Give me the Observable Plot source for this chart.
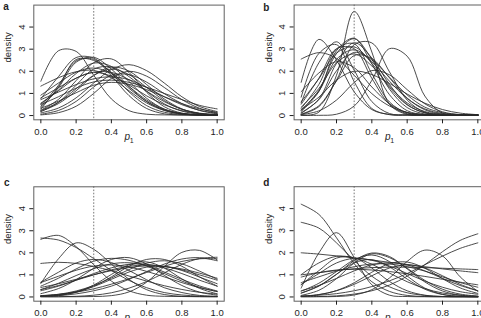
<!DOCTYPE html>
<html>
<head>
<meta charset="utf-8">
<script src="https://cdn.jsdelivr.net/npm/d3@7"></script>
<script src="https://cdn.jsdelivr.net/npm/@observablehq/plot@0.6"></script>
<style>
  html, body { margin: 0; padding: 0; background: #fff; overflow: hidden; }
  #fig { position: relative; width: 500px; height: 318px; overflow: hidden; }
  #fig svg { position: absolute; left: 0; top: 0; max-width: none; }
</style>
</head>
<body>
<div id="fig"></div>
<script>
// Values of p1 at which every posterior density is tabulated
const p1Grid = [0, 0.1, 0.2, 0.3, 0.4, 0.5, 0.6, 0.7, 0.8, 0.9, 1.0];

// Panel a: one row of densities per replicate
const panelA = [
  [1.55, 2.93, 2.90, 1.82, 0.75, 0.22, 0.06, 0.03, 0.02, 0.02, 0.02],
  [0.76, 1.76, 2.62, 2.59, 1.91, 1.07, 0.45, 0.15, 0.05, 0.03, 0.02],
  [0.36, 1.26, 2.41, 2.63, 2.10, 1.31, 0.63, 0.24, 0.07, 0.03, 0.02],
  [0.29, 1.30, 2.53, 2.49, 1.95, 1.23, 0.64, 0.26, 0.09, 0.03, 0.02],
  [0.24, 0.73, 1.58, 2.39, 2.56, 1.95, 1.05, 0.40, 0.11, 0.03, 0.02],
  [0.12, 0.34, 0.80, 1.47, 2.08, 2.30, 2.03, 1.47, 0.85, 0.41, 0.18],
  [0.19, 0.54, 1.12, 1.81, 2.19, 2.01, 1.40, 0.75, 0.30, 0.09, 0.03],
  [1.33, 1.71, 1.98, 2.04, 1.71, 1.12, 0.57, 0.23, 0.07, 0.03, 0.02],
  [0.92, 1.47, 1.96, 2.15, 1.90, 1.31, 0.70, 0.29, 0.10, 0.04, 0.02],
  [0.80, 1.26, 1.69, 1.96, 1.95, 1.62, 1.10, 0.63, 0.29, 0.11, 0.04],
  [0.53, 1.15, 1.90, 2.37, 2.22, 1.54, 0.78, 0.29, 0.08, 0.03, 0.02],
  [0.72, 1.06, 1.40, 1.66, 1.75, 1.62, 1.27, 0.85, 0.49, 0.24, 0.10],
  [0.50, 0.85, 1.24, 1.52, 1.60, 1.50, 1.28, 1.00, 0.72, 0.46, 0.30],
  [0.33, 0.65, 1.03, 1.37, 1.50, 1.41, 1.17, 0.85, 0.54, 0.30, 0.15],
  [0.18, 0.60, 1.37, 2.10, 2.20, 1.76, 1.10, 0.53, 0.20, 0.06, 0.02],
  [0.06, 0.23, 0.64, 1.29, 1.82, 1.85, 1.51, 0.99, 0.54, 0.23, 0.08],
  [0.23, 0.60, 1.21, 1.82, 2.10, 1.85, 1.27, 0.68, 0.28, 0.09, 0.03],
  [0.42, 1.37, 2.47, 2.54, 1.80, 0.90, 0.32, 0.08, 0.03, 0.02, 0.02],
  [0.56, 1.12, 1.69, 1.95, 1.78, 1.38, 0.89, 0.49, 0.22, 0.09, 0.05],
  [0.03, 0.13, 0.42, 1.00, 1.68, 2.00, 1.78, 1.27, 0.72, 0.33, 0.12]
];

// Panel b
const panelB = [
  [0.01, 0.15, 1.82, 4.70, 2.87, 0.51, 0.05, 0.02, 0.02, 0.02, 0.02],
  [1.50, 3.44, 2.50, 1.07, 0.27, 0.05, 0.02, 0.02, 0.02, 0.02, 0.02],
  [2.55, 2.84, 2.58, 1.82, 0.99, 0.43, 0.14, 0.04, 0.02, 0.02, 0.02],
  [0.83, 2.80, 3.20, 1.53, 0.32, 0.04, 0.02, 0.02, 0.02, 0.02, 0.02],
  [0.57, 2.38, 3.33, 2.05, 0.63, 0.09, 0.03, 0.02, 0.02, 0.02, 0.02],
  [1.07, 1.92, 2.43, 2.16, 1.29, 0.53, 0.14, 0.04, 0.02, 0.02, 0.02],
  [0.18, 1.08, 2.93, 3.49, 2.33, 0.94, 0.22, 0.04, 0.02, 0.02, 0.02],
  [0.23, 1.14, 2.80, 3.47, 2.54, 1.19, 0.36, 0.07, 0.03, 0.02, 0.02],
  [0.32, 1.40, 3.00, 3.24, 1.89, 0.61, 0.12, 0.03, 0.02, 0.02, 0.02],
  [0.10, 0.74, 2.36, 3.29, 2.60, 1.40, 0.50, 0.12, 0.03, 0.02, 0.02],
  [0.62, 1.66, 2.82, 3.10, 2.36, 1.27, 0.48, 0.13, 0.04, 0.02, 0.02],
  [0.24, 1.10, 2.54, 2.97, 2.43, 1.55, 0.77, 0.30, 0.09, 0.03, 0.02],
  [0.13, 0.71, 2.02, 2.85, 2.51, 1.73, 0.93, 0.38, 0.13, 0.04, 0.02],
  [0.05, 0.40, 1.60, 3.20, 3.28, 1.97, 0.70, 0.15, 0.04, 0.02, 0.02],
  [0.06, 0.44, 1.56, 2.71, 2.57, 1.70, 0.79, 0.26, 0.06, 0.02, 0.02],
  [0.01, 0.01, 0.06, 0.43, 1.59, 3.02, 2.68, 0.88, 0.11, 0.02, 0.01],
  [0.04, 0.21, 0.70, 1.49, 2.03, 1.84, 1.17, 0.53, 0.17, 0.04, 0.02],
  [0.27, 0.83, 1.60, 2.00, 1.85, 1.45, 0.97, 0.56, 0.27, 0.11, 0.04],
  [0.51, 1.68, 3.02, 3.02, 1.68, 0.51, 0.08, 0.03, 0.02, 0.02, 0.02],
  [0.38, 1.22, 2.38, 2.78, 2.24, 1.33, 0.57, 0.18, 0.05, 0.02, 0.02]
];

// Panel c
const panelC = [
  [2.67, 2.58, 2.24, 1.74, 1.20, 0.75, 0.42, 0.20, 0.09, 0.04, 0.02],
  [2.61, 2.79, 2.28, 1.46, 0.72, 0.28, 0.08, 0.03, 0.02, 0.01, 0.01],
  [0.61, 1.73, 2.45, 2.16, 1.49, 0.80, 0.33, 0.11, 0.03, 0.02, 0.01],
  [1.52, 1.57, 1.52, 1.38, 1.19, 0.95, 0.72, 0.51, 0.34, 0.21, 0.13],
  [0.01, 0.01, 0.01, 0.02, 0.06, 0.23, 0.67, 1.38, 2.02, 2.11, 1.68],
  [0.01, 0.01, 0.03, 0.08, 0.19, 0.40, 0.70, 1.09, 1.48, 1.74, 1.80],
  [0.03, 0.06, 0.14, 0.28, 0.49, 0.80, 1.15, 1.49, 1.72, 1.78, 1.64],
  [0.06, 0.12, 0.22, 0.37, 0.58, 0.83, 1.11, 1.39, 1.61, 1.73, 1.73],
  [0.15, 0.38, 0.78, 1.30, 1.70, 1.78, 1.49, 0.98, 0.52, 0.22, 0.08],
  [0.49, 0.85, 1.27, 1.62, 1.75, 1.66, 1.40, 1.06, 0.72, 0.44, 0.24],
  [0.34, 0.52, 0.76, 1.00, 1.23, 1.39, 1.45, 1.39, 1.23, 1.00, 0.76],
  [0.28, 0.49, 0.76, 1.06, 1.32, 1.48, 1.48, 1.32, 1.06, 0.76, 0.49],
  [0.43, 0.60, 0.80, 1.01, 1.19, 1.33, 1.41, 1.38, 1.27, 1.08, 0.85],
  [0.05, 0.12, 0.27, 0.52, 0.86, 1.24, 1.53, 1.64, 1.50, 1.17, 0.80],
  [0.04, 0.08, 0.21, 0.49, 0.91, 1.39, 1.70, 1.70, 1.39, 0.91, 0.49],
  [0.33, 0.62, 0.97, 1.28, 1.50, 1.55, 1.42, 1.13, 0.80, 0.50, 0.27],
  [0.65, 0.94, 1.21, 1.40, 1.45, 1.36, 1.16, 0.91, 0.65, 0.42, 0.25],
  [0.67, 1.12, 1.54, 1.70, 1.56, 1.20, 0.78, 0.42, 0.20, 0.07, 0.03],
  [0.04, 0.10, 0.24, 0.47, 0.80, 1.13, 1.35, 1.38, 1.20, 0.90, 0.60],
  [0.03, 0.07, 0.22, 0.54, 1.02, 1.46, 1.59, 1.31, 0.82, 0.39, 0.14]
];

// Panel d
const panelD = [
  [4.20, 3.74, 2.68, 1.51, 0.69, 0.25, 0.07, 0.02, 0.01, 0.01, 0.01],
  [3.38, 3.12, 2.45, 1.65, 0.94, 0.46, 0.19, 0.07, 0.02, 0.01, 0.01],
  [0.40, 1.99, 2.91, 1.79, 0.55, 0.08, 0.02, 0.01, 0.01, 0.01, 0.01],
  [2.00, 1.94, 1.86, 1.77, 1.67, 1.57, 1.47, 1.37, 1.27, 1.18, 1.10],
  [1.00, 1.10, 1.20, 1.28, 1.33, 1.35, 1.35, 1.33, 1.30, 1.27, 1.24],
  [0.01, 0.02, 0.05, 0.13, 0.28, 0.54, 0.94, 1.46, 2.05, 2.56, 2.86],
  [0.04, 0.08, 0.15, 0.28, 0.47, 0.73, 1.06, 1.46, 1.85, 2.20, 2.45],
  [0.01, 0.01, 0.02, 0.09, 0.33, 0.86, 1.61, 2.12, 1.86, 0.91, 0.25],
  [0.17, 0.49, 1.02, 1.64, 1.99, 1.83, 1.27, 0.68, 0.27, 0.08, 0.02],
  [0.07, 0.30, 0.83, 1.54, 1.95, 1.78, 1.30, 0.75, 0.35, 0.13, 0.04],
  [0.26, 0.62, 1.15, 1.68, 1.90, 1.60, 0.95, 0.40, 0.12, 0.03, 0.01],
  [1.01, 1.54, 1.84, 1.77, 1.48, 1.08, 0.69, 0.38, 0.18, 0.08, 0.03],
  [0.57, 1.06, 1.54, 1.75, 1.66, 1.40, 1.06, 0.72, 0.44, 0.24, 0.12],
  [0.28, 0.52, 0.84, 1.18, 1.45, 1.55, 1.45, 1.18, 0.84, 0.52, 0.28],
  [0.03, 0.10, 0.29, 0.64, 1.12, 1.51, 1.58, 1.30, 0.83, 0.41, 0.16],
  [0.65, 0.91, 1.17, 1.37, 1.49, 1.49, 1.37, 1.17, 0.91, 0.65, 0.44],
  [0.90, 1.10, 1.22, 1.25, 1.22, 1.15, 1.05, 0.93, 0.80, 0.67, 0.55],
  [0.03, 0.11, 0.28, 0.57, 0.96, 1.31, 1.45, 1.31, 0.96, 0.57, 0.28],
  [0.55, 1.19, 1.76, 1.78, 1.31, 0.70, 0.28, 0.08, 0.02, 0.01, 0.01],
  [0.18, 0.50, 1.03, 1.54, 1.69, 1.36, 0.81, 0.35, 0.11, 0.03, 0.01]
];

const panelLetters = ["a", "b", "c", "d"];
const xTicks = [0, 0.2, 0.4, 0.6, 0.8, 1.0];
const yTicks = [0, 1, 2, 3, 4];
const trueP1 = [0.3];
const yTitle = "density";
const xTitle = ["p", "1"];

// Page geometry: every panel is its own full-size SVG, framed at these pixels
const W = 500, H = 318;
const frames = {
  a: {left: 33.3, right: 223.7, top: 4.6, bottom: 119.3, lx: 2.7, ly: 9.6},
  b: {left: 293.6, right: 484.4, top: 4.5, bottom: 119.3, lx: 262.7, ly: 10},
  c: {left: 33.3, right: 223.7, top: 186.3, bottom: 300.7, lx: 3.5, ly: 185.3},
  d: {left: 293.6, right: 484.4, top: 186.2, bottom: 300.7, lx: 262.7, ly: 185.3}
};

const ink = "#1e1e1e";

function drawPanel(letter, curves) {
  const f = frames[letter];
  const rows = curves.flatMap((ys, k) => ys.map((v, i) => ({rep: k, p1: p1Grid[i], dens: v})));
  return Plot.plot({
    width: W,
    height: H,
    marginLeft: f.left,
    marginRight: W - f.right,
    marginTop: f.top,
    marginBottom: H - f.bottom,
    x: {domain: [-0.04, 1.04]},
    y: {domain: [-0.192, 4.992]},
    style: {
      background: "transparent",
      fontFamily: "'Liberation Sans', Arial, Helvetica, sans-serif",
      fontSize: "9px",
      color: ink
    },
    marks: [
      Plot.line(rows, {
        x: "p1", y: "dens", z: "rep",
        curve: "catmull-rom",
        stroke: "#2a2a2a", strokeWidth: 0.85, clip: true
      }),
      Plot.ruleX(trueP1, {stroke: "#777", strokeWidth: 1, strokeDasharray: "1.6,1.6"}),
      Plot.frame({stroke: "#606060", strokeWidth: 1}),
      Plot.axisX({
        ticks: xTicks, tickFormat: d3.format(".1f"),
        tickSize: 4, tickPadding: 4.5, label: null, fontSize: 9.5
      }),
      Plot.axisY({
        ticks: yTicks, tickFormat: d => String(d),
        tickSize: 4, tickPadding: 5, tickRotate: -90,
        textAnchor: "middle", lineAnchor: "bottom",
        label: null, fontSize: 9.5
      }),
      Plot.text([yTitle], {
        text: d => d, frameAnchor: "left", dx: -25.5,
        rotate: -90, fontSize: 9.5
      }),
      Plot.text([xTitle[0]], {
        text: d => d, frameAnchor: "bottom", dx: -1.8, dy: 19.8,
        lineAnchor: "bottom", fontStyle: "italic", fontSize: 10
      }),
      Plot.text([xTitle[1]], {
        text: d => d, frameAnchor: "bottom", dx: 2.6, dy: 23.3,
        lineAnchor: "bottom", fontSize: 7
      }),
      Plot.text([letter], {
        text: d => d, frameAnchor: "top-left",
        dx: f.lx - f.left, dy: f.ly - f.top,
        textAnchor: "start", lineAnchor: "bottom",
        fontWeight: "bold", fontSize: 10
      })
    ]
  });
}

const fig = document.getElementById("fig");
[panelA, panelB, panelC, panelD].forEach((curves, i) => {
  fig.appendChild(drawPanel(panelLetters[i], curves));
});
</script>
</body>
</html>
